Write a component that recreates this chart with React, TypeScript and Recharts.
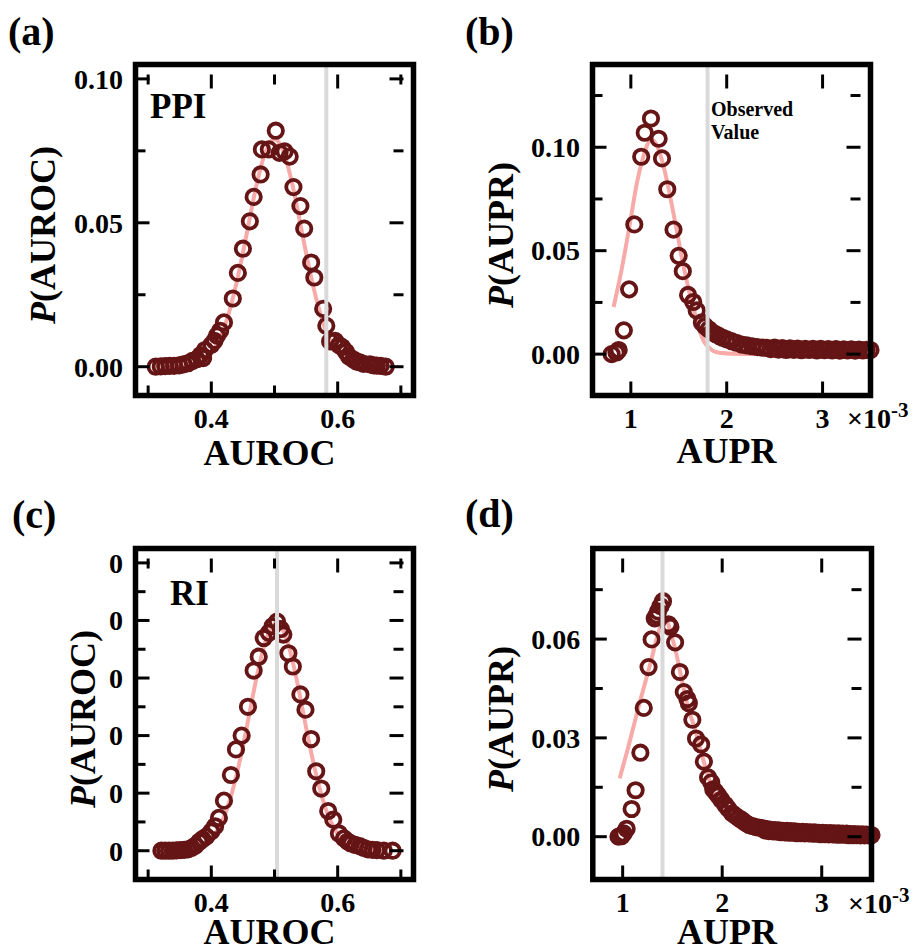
import React from 'react'
import { ComposedChart, Line, Scatter, XAxis, YAxis, ReferenceLine, ReferenceArea } from 'recharts'

const DARK = '#651515'
const PINK = '#f7aaa7'
const GREY = '#dadada'
const FONT = '"Liberation Serif", "Times New Roman", serif'

// (a) PPI, AUROC
const ppiRocX = [0.312, 0.320, 0.327, 0.334, 0.341, 0.349, 0.356, 0.363, 0.370, 0.377, 0.383, 0.387, 0.390, 0.400, 0.405, 0.409, 0.414, 0.420, 0.434, 0.442, 0.450, 0.461, 0.467, 0.478, 0.480, 0.491, 0.502, 0.508, 0.516, 0.524, 0.530, 0.541, 0.547, 0.558, 0.563, 0.577, 0.582, 0.588, 0.596, 0.602, 0.607, 0.613, 0.618, 0.625, 0.630, 0.635, 0.641, 0.651, 0.657, 0.662, 0.668, 0.676]
const ppiRocY = [0.0000, 0.0001, 0.0002, 0.0003, 0.0003, 0.0005, 0.0008, 0.0012, 0.0020, 0.0026, 0.0040, 0.0030, 0.0058, 0.0076, 0.0090, 0.0108, 0.0125, 0.0154, 0.0237, 0.0326, 0.0410, 0.0505, 0.0590, 0.0668, 0.0755, 0.0755, 0.0820, 0.0743, 0.0748, 0.0730, 0.0624, 0.0558, 0.0480, 0.0362, 0.0310, 0.0201, 0.0142, 0.0088, 0.0090, 0.0075, 0.0068, 0.0052, 0.0035, 0.0025, 0.0018, 0.0015, 0.0010, 0.0008, 0.0005, 0.0004, 0.0003, 0.0000]
const ppiRocFitX = [0.32, 0.33, 0.34, 0.35, 0.36, 0.37, 0.38, 0.39, 0.40, 0.41, 0.42, 0.43, 0.44, 0.45, 0.46, 0.47, 0.48, 0.49, 0.50, 0.51, 0.52, 0.53, 0.54, 0.55, 0.56, 0.57, 0.58, 0.59, 0.60, 0.61, 0.62, 0.63, 0.64, 0.65, 0.66, 0.67]
const ppiRocFitY = [0.0000, 0.0000, 0.0001, 0.0001, 0.0003, 0.0007, 0.0015, 0.0028, 0.0050, 0.0084, 0.0134, 0.0204, 0.0292, 0.0395, 0.0507, 0.0616, 0.0707, 0.0768, 0.0790, 0.0768, 0.0707, 0.0616, 0.0507, 0.0395, 0.0292, 0.0204, 0.0134, 0.0084, 0.0050, 0.0028, 0.0015, 0.0007, 0.0003, 0.0001, 0.0001, 0.0000]

// (b) PPI, AUPR (x in units of 1e-3)
const ppiPrX = [0.800, 0.850, 0.873, 0.927, 0.982, 1.036, 1.108, 1.145, 1.210, 1.290, 1.325, 1.380, 1.445, 1.499, 1.542, 1.597, 1.651, 1.687, 1.741, 1.775, 1.813, 1.850, 1.886, 1.922, 1.958, 2.000, 2.049, 2.100, 2.157, 2.210, 2.266, 2.320, 2.374, 2.42, 2.46, 2.50, 2.54, 2.58, 2.62, 2.66, 2.70, 2.74, 2.78, 2.82, 2.86, 2.90, 2.94, 2.98, 3.02, 3.06, 3.10, 3.14, 3.18, 3.22, 3.26, 3.30, 3.34, 3.38, 3.42, 3.46, 3.50]
const ppiPrY = [0.0000, 0.0008, 0.0020, 0.0115, 0.0313, 0.0627, 0.0954, 0.1070, 0.1139, 0.1041, 0.0946, 0.0797, 0.0602, 0.0475, 0.0401, 0.0286, 0.0252, 0.0211, 0.0153, 0.0135, 0.0120, 0.0105, 0.0096, 0.0087, 0.0079, 0.0071, 0.0063, 0.0055, 0.0046, 0.0042, 0.0038, 0.0034, 0.0031, 0.0030, 0.0024, 0.0031, 0.0022, 0.0029, 0.0020, 0.0028, 0.0021, 0.0027, 0.0019, 0.0026, 0.0020, 0.0026, 0.0018, 0.0025, 0.0019, 0.0024, 0.0018, 0.0024, 0.0017, 0.0023, 0.0018, 0.0023, 0.0017, 0.0022, 0.0018, 0.0021, 0.0020]
const ppiPrFitX = [0.82, 0.90, 1.00, 1.06, 1.13, 1.17, 1.217, 1.27, 1.325, 1.38, 1.434, 1.49, 1.542, 1.60, 1.65, 1.70, 1.76, 1.82, 1.868, 1.95, 2.05, 2.20, 2.50, 3.00, 3.31]
const ppiPrFitY = [0.0228, 0.0400, 0.0657, 0.0820, 0.0954, 0.1010, 0.1036, 0.1010, 0.0937, 0.0830, 0.0706, 0.0570, 0.0442, 0.0320, 0.0228, 0.0140, 0.0063, 0.0030, 0.0013, 0.0005, 0.0002, 0.0001, 0.0000, 0.0000, 0.0000]

// (c) RI, AUROC
const riRocX = [0.321, 0.327, 0.333, 0.339, 0.345, 0.351, 0.357, 0.363, 0.369, 0.375, 0.381, 0.386, 0.392, 0.400, 0.406, 0.412, 0.420, 0.431, 0.439, 0.448, 0.458, 0.467, 0.475, 0.483, 0.491, 0.497, 0.504, 0.510, 0.514, 0.522, 0.529, 0.541, 0.549, 0.558, 0.566, 0.574, 0.585, 0.593, 0.602, 0.610, 0.616, 0.621, 0.628, 0.635, 0.641, 0.648, 0.655, 0.662, 0.673, 0.687]
const riRocY = [0.0000, 0.0000, 0.0000, 0.0000, 0.0001, 0.0002, 0.0003, 0.0005, 0.0010, 0.0018, 0.0031, 0.0040, 0.0049, 0.0067, 0.0085, 0.0114, 0.0174, 0.0263, 0.0352, 0.0400, 0.0500, 0.0626, 0.0674, 0.0739, 0.0757, 0.0780, 0.0796, 0.0770, 0.0751, 0.0686, 0.0640, 0.0543, 0.0490, 0.0388, 0.0276, 0.0216, 0.0138, 0.0108, 0.0060, 0.0043, 0.0032, 0.0025, 0.0020, 0.0016, 0.0010, 0.0005, 0.0003, 0.0002, 0.0000, 0.0000]
const riRocFitX = [0.333, 0.343, 0.353, 0.363, 0.373, 0.383, 0.393, 0.403, 0.413, 0.423, 0.433, 0.443, 0.453, 0.463, 0.473, 0.483, 0.493, 0.503, 0.513, 0.523, 0.533, 0.543, 0.553, 0.563, 0.573, 0.583, 0.593, 0.603, 0.613, 0.623, 0.633, 0.643, 0.653, 0.663, 0.673]
const riRocFitY = [0.0000, 0.0001, 0.0001, 0.0003, 0.0007, 0.0015, 0.0028, 0.0050, 0.0084, 0.0134, 0.0204, 0.0292, 0.0395, 0.0507, 0.0616, 0.0707, 0.0768, 0.0790, 0.0768, 0.0707, 0.0616, 0.0507, 0.0395, 0.0292, 0.0204, 0.0134, 0.0084, 0.0050, 0.0028, 0.0015, 0.0007, 0.0003, 0.0001, 0.0001, 0.0000]

// (d) RI, AUPR (x in units of 1e-3)
const riPrX = [0.958, 0.990, 1.010, 1.040, 1.090, 1.130, 1.178, 1.212, 1.260, 1.291, 1.322, 1.340, 1.356, 1.380, 1.405, 1.460, 1.480, 1.527, 1.575, 1.614, 1.650, 1.665, 1.700, 1.737, 1.789, 1.816, 1.858, 1.890, 1.910, 1.935, 1.960, 1.990, 2.030, 2.060, 2.100, 2.135, 2.170, 2.200, 2.235, 2.270, 2.305, 2.340, 2.375,
  2.41, 2.43, 2.45, 2.47, 2.49, 2.51, 2.53, 2.55, 2.57, 2.59, 2.61, 2.63, 2.65, 2.67, 2.69, 2.71, 2.73, 2.75, 2.77, 2.79, 2.81, 2.83, 2.85, 2.87, 2.89, 2.91, 2.93, 2.95, 2.97, 2.99,
  3.01, 3.03, 3.05, 3.07, 3.09, 3.11, 3.13, 3.15, 3.17, 3.19, 3.21, 3.23, 3.25, 3.27, 3.29, 3.31, 3.33, 3.35, 3.37, 3.39, 3.41, 3.43, 3.45, 3.47, 3.50]
const riPrY = [0.0000, 0.0002, 0.0010, 0.0024, 0.0084, 0.0141, 0.0255, 0.0391, 0.0515, 0.0599, 0.0663, 0.0672, 0.0684, 0.0700, 0.0715, 0.0645, 0.0637, 0.0590, 0.0500, 0.0439, 0.0418, 0.0405, 0.0355, 0.0298, 0.0280, 0.0228, 0.0180, 0.0165, 0.0144, 0.0135, 0.0125, 0.0112, 0.0097, 0.0085, 0.0071, 0.0063, 0.0056, 0.0050, 0.0042, 0.0035, 0.0032, 0.0029, 0.0027,
  0.0025, 0.0019, 0.0023, 0.0017, 0.0021, 0.0016, 0.0020, 0.0015, 0.0019, 0.0014, 0.0018, 0.0013, 0.0018, 0.0012, 0.0017, 0.0012, 0.0016, 0.0011, 0.0015, 0.0011, 0.0015, 0.0010, 0.0014, 0.0010, 0.0013, 0.0009, 0.0013, 0.0009, 0.0012, 0.0008,
  0.0012, 0.0008, 0.0011, 0.0007, 0.0011, 0.0007, 0.0010, 0.0006, 0.0010, 0.0006, 0.0009, 0.0006, 0.0009, 0.0005, 0.0008, 0.0005, 0.0008, 0.0005, 0.0007, 0.0004, 0.0007, 0.0004, 0.0006, 0.0004, 0.0005]
const riPrFitX = [0.97, 1.05, 1.166, 1.287, 1.35, 1.40, 1.44, 1.49, 1.52, 1.585, 1.65, 1.723, 1.79, 1.862, 1.95, 2.037, 2.14, 2.24, 2.35, 2.50, 2.80, 3.10, 3.40]
const riPrFitY = [0.0177, 0.0265, 0.0401, 0.0536, 0.0610, 0.0650, 0.0655, 0.0610, 0.0580, 0.0490, 0.0400, 0.0330, 0.0255, 0.0180, 0.0110, 0.0068, 0.0035, 0.0018, 0.0009, 0.0004, 0.0001, 0.0000, 0.0000]

const zip = (xs: number[], ys: number[]) => xs.map((x, i) => ({ x, y: ys[i] }))

type PanelProps = {
  left: number
  top: number
  width: number
  height: number
  plotL: number
  plotT: number
  plotR: number
  plotB: number
  xDomain: [number, number]
  yDomain: [number, number]
  xTicks: number[]
  xMajor: number[]
  yTicks: number[]
  yMajor: number[]
  xFmt: (v: number) => string
  yFmt: (v: number) => string
  points: { x: number; y: number }[]
  fit: { x: number; y: number }[]
  observed: number
}

const Panel = (p: PanelProps) => {
  const plotW = p.plotR - p.plotL
  const plotH = p.plotB - p.plotT
  const margin = { left: p.plotL - 50, right: p.width - p.plotR - 10, top: p.plotT - 10, bottom: p.height - p.plotB - 30 }

  // ticks point inwards on all four sides, labels only on the major ones
  const xTick = (t: any) => {
    const v = t.payload.value
    const major = p.xMajor.includes(v)
    const len = major ? 14 : 10
    return (
      <g>
        <line x1={t.x} x2={t.x} y1={t.y} y2={t.y - len} stroke="#000" strokeWidth={3} />
        <line x1={t.x} x2={t.x} y1={t.y - plotH} y2={t.y - plotH + len} stroke="#000" strokeWidth={3} />
        {major && (
          <text x={t.x} y={t.y + 32.5} textAnchor="middle" fontFamily={FONT} fontWeight="bold" fontSize={28} fill="#000">
            {p.xFmt(v)}
          </text>
        )}
      </g>
    )
  }

  const yTick = (t: any) => {
    const v = t.payload.value
    const major = p.yMajor.includes(v)
    const len = major ? 14 : 10
    return (
      <g>
        <line x1={t.x} x2={t.x + len} y1={t.y} y2={t.y} stroke="#000" strokeWidth={3} />
        <line x1={t.x + plotW} x2={t.x + plotW - len} y1={t.y} y2={t.y} stroke="#000" strokeWidth={3} />
        {major && (
          <text x={t.x - 12.5} y={t.y} dy="0.35em" textAnchor="end" fontFamily={FONT} fontWeight="bold" fontSize={28} fill="#000">
            {p.yFmt(v)}
          </text>
        )}
      </g>
    )
  }

  return (
    <div style={{ position: 'absolute', left: p.left, top: p.top }}>
      <ComposedChart width={p.width} height={p.height} margin={margin}>
        <XAxis
          dataKey="x"
          type="number"
          domain={p.xDomain}
          ticks={p.xTicks}
          interval={0}
          height={30}
          axisLine={false}
          tickLine={false}
          tickSize={0}
          tickMargin={0}
          tick={xTick}
        />
        <YAxis
          dataKey="y"
          type="number"
          domain={p.yDomain}
          ticks={p.yTicks}
          interval={0}
          width={50}
          axisLine={false}
          tickLine={false}
          tickSize={0}
          tickMargin={0}
          tick={yTick}
        />
        <Scatter
          data={p.points}
          dataKey="y"
          isAnimationActive={false}
          shape={(s: any) => <circle cx={s.cx} cy={s.cy} r={7.2} fill="none" stroke={DARK} strokeWidth={3.8} />}
        />
        <Line data={p.fit} dataKey="y" type="monotone" stroke={PINK} strokeWidth={4} dot={false} activeDot={false} isAnimationActive={false} />
        <ReferenceLine x={p.observed} stroke={GREY} strokeWidth={4} zIndex={900} />
        <ReferenceArea
          x1={p.xDomain[0]}
          x2={p.xDomain[1]}
          y1={p.yDomain[0]}
          y2={p.yDomain[1]}
          fill="none"
          fillOpacity={0}
          stroke="#000"
          strokeWidth={5.5}
          strokeOpacity={1}
          zIndex={1000}
        />
      </ComposedChart>
    </div>
  )
}

const t2 = (v: number) => v.toFixed(2)
const t1 = (v: number) => v.toFixed(1)
const int = (v: number) => String(v)
const zero = () => '0'

const T = (props: any) => <text fontFamily={FONT} fontWeight="bold" fill="#000" {...props} />

const YTitle = ({ x, y, name }: { x: number; y: number; name: string }) => (
  <T x={x} y={y} fontSize={36} textAnchor="middle" transform={`rotate(-90 ${x} ${y})`}>
    <tspan fontStyle="italic">P</tspan>({name})
  </T>
)

const Sci = ({ x, y }: { x: number; y: number }) => (
  <T x={x} y={y} fontSize={28}>
    ×10<tspan dy={-11} fontSize={21}>-3</tspan>
  </T>
)

export default function App() {
  return (
    <div style={{ position: 'absolute', left: 0, top: 0, width: 915, height: 951, background: '#fff', overflow: 'hidden' }}>
      <Panel
        left={0} top={0} width={460} height={475}
        plotL={135.5} plotT={74.5} plotR={403.5} plotB={395.5}
        xDomain={[0.28, 0.72]} yDomain={[-0.01, 0.105]}
        xTicks={[0.3, 0.4, 0.5, 0.6, 0.7]} xMajor={[0.4, 0.6]}
        yTicks={[0, 0.025, 0.05, 0.075, 0.1]} yMajor={[0, 0.05, 0.1]}
        xFmt={t1} yFmt={t2}
        points={zip(ppiRocX, ppiRocY)} fit={zip(ppiRocFitX, ppiRocFitY)} observed={0.582}
      />
      <Panel
        left={460} top={0} width={455} height={475}
        plotL={132.5} plotT={74.5} plotR={400.5} plotB={395.5}
        xDomain={[0.6, 3.5]} yDomain={[-0.02, 0.14]}
        xTicks={[1, 2, 3]} xMajor={[1, 2, 3]}
        yTicks={[0, 0.025, 0.05, 0.075, 0.1, 0.125]} yMajor={[0, 0.05, 0.1]}
        xFmt={int} yFmt={t2}
        points={zip(ppiPrX, ppiPrY)} fit={zip(ppiPrFitX, ppiPrFitY)} observed={1.8}
      />
      <Panel
        left={0} top={480} width={460} height={471}
        plotL={135.5} plotT={78.5} plotR={403.5} plotB={399.5}
        xDomain={[0.28, 0.72]} yDomain={[-0.01, 0.105]}
        xTicks={[0.3, 0.4, 0.5, 0.6, 0.7]} xMajor={[0.4, 0.6]}
        yTicks={[0, 0.01, 0.02, 0.03, 0.04, 0.05, 0.06, 0.07, 0.08, 0.09, 0.1]} yMajor={[0, 0.02, 0.04, 0.06, 0.08, 0.1]}
        xFmt={t1} yFmt={zero}
        points={zip(riRocX, riRocY)} fit={zip(riRocFitX, riRocFitY)} observed={0.504}
      />
      <Panel
        left={460} top={480} width={455} height={471}
        plotL={132.8} plotT={78.5} plotR={401.5} plotB={399.5}
        xDomain={[0.7, 3.5]} yDomain={[-0.013, 0.0875]}
        xTicks={[1, 2, 3]} xMajor={[1, 2, 3]}
        yTicks={[0, 0.015, 0.03, 0.045, 0.06, 0.075]} yMajor={[0, 0.03, 0.06]}
        xFmt={int} yFmt={t2}
        points={zip(riPrX, riPrY)} fit={zip(riPrFitX, riPrFitY)} observed={1.4}
      />
      <svg width={915} height={951} style={{ position: 'absolute', left: 0, top: 0, pointerEvents: 'none' }}>
        <T x={8} y={45} fontSize={40}>(a)</T>
        <T x={465} y={45} fontSize={40}>(b)</T>
        <T x={12} y={528} fontSize={40}>(c)</T>
        <T x={465} y={527} fontSize={40}>(d)</T>
        <T x={150} y={118} fontSize={35}>PPI</T>
        <T x={170} y={605} fontSize={35}>RI</T>
        <T x={711} y={116} fontSize={20}>
          Observed
          <tspan x={711} dy={22.5}>Value</tspan>
        </T>
        <YTitle x={55} y={235} name="AUROC" />
        <YTitle x={513} y={235} name="AUPR" />
        <YTitle x={95} y={719} name="AUROC" />
        <YTitle x={513} y={719} name="AUPR" />
        <T x={269.5} y={465} fontSize={36} textAnchor="middle">AUROC</T>
        <T x={726.5} y={463} fontSize={36} textAnchor="middle">AUPR</T>
        <T x={269.5} y={944} fontSize={36} textAnchor="middle">AUROC</T>
        <T x={727} y={944} fontSize={36} textAnchor="middle">AUPR</T>
        <Sci x={847} y={428} />
        <Sci x={848} y={913} />
      </svg>
    </div>
  )
}
